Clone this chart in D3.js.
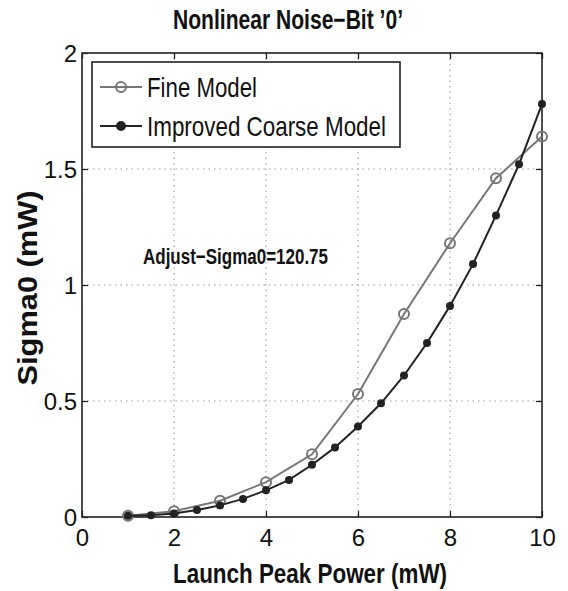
<!DOCTYPE html>
<html>
<head>
<meta charset="utf-8">
<script src="https://cdn.jsdelivr.net/npm/d3@7"></script>
<style>
  body { margin: 0; background: #fff; }
  text { font-family: "Liberation Sans", Arial, sans-serif; fill: #111; }
</style>
</head>
<body>
<div id="chart"></div>
<script>
// data
var fineX = [1, 2, 3, 4, 5, 6, 7, 8, 9, 10];
var fineY = [0.005, 0.025, 0.07, 0.15, 0.27, 0.53, 0.875, 1.18, 1.46, 1.64];
var coarseX = [1, 1.5, 2, 2.5, 3, 3.5, 4, 4.5, 5, 5.5, 6, 6.5, 7, 7.5, 8, 8.5, 9, 9.5, 10];
var coarseY = [0.005, 0.008, 0.015, 0.03, 0.05, 0.078, 0.115, 0.16, 0.225, 0.3, 0.39, 0.49, 0.61, 0.75, 0.91, 1.09, 1.3, 1.52, 1.78];
var xTicks = [0, 2, 4, 6, 8, 10];
var yTicks = [0, 0.5, 1, 1.5, 2];
var seriesNames = ["Fine Model", "Improved Coarse Model"];

var W = 568, H = 591;
var margin = { top: 53, right: 26, bottom: 74, left: 82 },
  width = W - margin.left - margin.right,
  height = H - margin.top - margin.bottom;

var svg = d3.select("#chart")
  .append("svg")
  .attr("width", W)
  .attr("height", H);

var g = svg.append("g")
  .attr("transform", "translate(" + margin.left + "," + margin.top + ")");

var x = d3.scaleLinear().domain([0, 10]).range([0, width]);
var y = d3.scaleLinear().domain([0, 2]).range([height, 0]);

// dotted grid
g.selectAll(".gx").data(xTicks.slice(1, -1)).enter().append("line")
  .attr("x1", d => x(d)).attr("x2", d => x(d))
  .attr("y1", 0).attr("y2", height)
  .attr("stroke", "#999").attr("stroke-width", 1).attr("stroke-dasharray", "1.5,4");
g.selectAll(".gy").data(yTicks.slice(1, -1)).enter().append("line")
  .attr("y1", d => y(d)).attr("y2", d => y(d))
  .attr("x1", 0).attr("x2", width)
  .attr("stroke", "#999").attr("stroke-width", 1).attr("stroke-dasharray", "1.5,4");

// axes, ticks pointing inwards, on all four sides
function styleAxis(sel) {
  sel.select(".domain").remove();
  sel.selectAll("line").attr("stroke", "#222").attr("stroke-width", 1.3);
  sel.selectAll("text").style("font-size", "24px").attr("fill", "#111");
}
g.append("g").attr("transform", "translate(0," + height + ")")
  .call(d3.axisBottom(x).tickValues(xTicks).tickSize(-6).tickPadding(12).tickFormat(d3.format("d")))
  .call(styleAxis);
g.append("g")
  .call(d3.axisTop(x).tickValues(xTicks).tickSize(-6).tickFormat(""))
  .call(styleAxis);
g.append("g")
  .call(d3.axisLeft(y).tickValues(yTicks).tickSize(-6).tickPadding(10).tickFormat(d3.format("")))
  .call(styleAxis)
  .selectAll("text").attr("dy", "0.36em").attr("x", -5);
g.append("g").attr("transform", "translate(" + width + ",0)")
  .call(d3.axisRight(y).tickValues(yTicks).tickSize(-6).tickFormat(""))
  .call(styleAxis);

g.append("rect")
  .attr("width", width).attr("height", height)
  .attr("fill", "none").attr("stroke", "#222").attr("stroke-width", 1.6);

// lines
var fine = fineX.map((d, i) => [d, fineY[i]]);
var coarse = coarseX.map((d, i) => [d, coarseY[i]]);
var line = d3.line().x(d => x(d[0])).y(d => y(d[1]));

g.append("path").datum(fine).attr("d", line)
  .attr("fill", "none").attr("stroke", "#777").attr("stroke-width", 2);
g.selectAll(".fp").data(fine).enter().append("circle")
  .attr("cx", d => x(d[0])).attr("cy", d => y(d[1])).attr("r", 5)
  .attr("fill", "none").attr("stroke", "#777").attr("stroke-width", 2);

g.append("path").datum(coarse).attr("d", line)
  .attr("fill", "none").attr("stroke", "#222").attr("stroke-width", 2);
g.selectAll(".cp").data(coarse).enter().append("circle")
  .attr("cx", d => x(d[0])).attr("cy", d => y(d[1])).attr("r", 4)
  .attr("fill", "#222");

// legend
var lg = svg.append("g");
lg.append("rect").attr("x", 92).attr("y", 62).attr("width", 308).attr("height", 85)
  .attr("fill", "#fff").attr("stroke", "#222").attr("stroke-width", 1.6);
var legendRows = [
  { name: seriesNames[0], color: "#777", y: 87, len: 110, open: true },
  { name: seriesNames[1], color: "#222", y: 126, len: 239, open: false }
];
legendRows.forEach(function (r) {
  lg.append("line").attr("x1", 100).attr("x2", 142).attr("y1", r.y).attr("y2", r.y)
    .attr("stroke", r.color).attr("stroke-width", 2);
  lg.append("circle").attr("cx", 121).attr("cy", r.y).attr("r", r.open ? 5 : 4)
    .attr("fill", r.open ? "none" : r.color).attr("stroke", r.color).attr("stroke-width", 2);
  lg.append("text").attr("x", 147).attr("y", r.y + 10)
    .style("font-size", "28px").attr("textLength", r.len).attr("lengthAdjust", "spacingAndGlyphs")
    .text(r.name);
});

// titles
svg.append("text").attr("x", 288).attr("y", 29).attr("text-anchor", "middle")
  .style("font-size", "27px").style("font-weight", "bold")
  .attr("textLength", 230).attr("lengthAdjust", "spacingAndGlyphs")
  .text("Nonlinear Noise\u2212Bit \u20190\u2019");

svg.append("text").attr("x", 310).attr("y", 583).attr("text-anchor", "middle")
  .style("font-size", "28px").style("font-weight", "bold")
  .attr("textLength", 274).attr("lengthAdjust", "spacingAndGlyphs")
  .text("Launch Peak Power (mW)");

svg.append("text").attr("transform", "translate(37,288) rotate(-90)").attr("text-anchor", "middle")
  .style("font-size", "27px").style("font-weight", "bold")
  .attr("textLength", 195).attr("lengthAdjust", "spacingAndGlyphs")
  .text("Sigma0 (mW)");

svg.append("text").attr("x", 143).attr("y", 264)
  .style("font-size", "22px").style("font-weight", "bold")
  .attr("textLength", 185).attr("lengthAdjust", "spacingAndGlyphs")
  .text("Adjust\u2212Sigma0=120.75");
</script>
</body>
</html>
